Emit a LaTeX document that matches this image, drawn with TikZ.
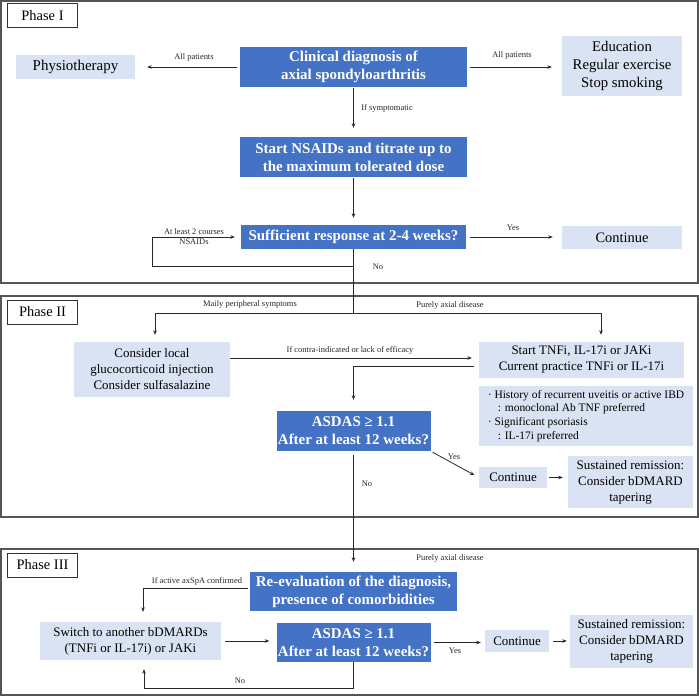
\documentclass[tikz,border=0pt]{standalone}
\usepackage{fontspec}
\setmainfont{Liberation Serif}
\usetikzlibrary{arrows.meta,calc}
\definecolor{dkblue}{RGB}{68,114,196}
\definecolor{ltblue}{RGB}{218,227,243}
\definecolor{lncol}{RGB}{40,40,40}
\definecolor{frcol}{RGB}{85,85,85}
\begin{document}
\begin{tikzpicture}[x=1bp,y=-1bp,
  dark/.style={fill=dkblue,text=white,font=\bfseries\fontsize{15}{18}\selectfont,align=center,inner sep=0pt},
  light/.style={fill=ltblue,text=black,font=\fontsize{13}{16}\selectfont,align=center,inner sep=0pt},
  lbl/.style={font=\fontsize{8.5}{10}\selectfont,text=black!85,inner sep=0pt,align=center},
  arr/.style={draw=lncol,line width=0.8bp,-{Stealth[length=4.5bp,width=3.6bp]}},
  ln/.style={draw=lncol,line width=0.8bp},
  frame/.style={draw=frcol,line width=1.3bp},
  phase/.style={draw=black!80,line width=1bp,fill=white,font=\fontsize{14.5}{16}\selectfont,inner sep=0pt,minimum width=69bp,minimum height=24bp},
]
\useasboundingbox (0,0) rectangle (699,696);
% frames
\draw[frame] (1,1) rectangle (698,283);
\draw[frame] (1,296) rectangle (698,517);
\draw[frame] (1,549) rectangle (698,695);
\node[phase] (p1) at (42.5,15.5) {Phase I};
\node[phase] (p2) at (42.5,312) {Phase II};
\node[phase] (p3) at (42.5,565) {Phase III};

% Phase I
\node[light,font=\fontsize{15}{18}\selectfont,minimum width=119bp,minimum height=24bp] (physio) at (75.5,67) {Physiotherapy};
\node[dark,minimum width=227bp,minimum height=40bp] (diag) at (353.5,67) {Clinical diagnosis of\\axial spondyloarthritis};
\node[light,font=\fontsize{14.8}{18}\selectfont,minimum width=120bp,minimum height=60bp] (edu) at (622,66) {Education\\Regular exercise\\Stop smoking};
\node[dark,minimum width=227bp,minimum height=40bp] (nsaid) at (353.5,157) {Start NSAIDs and titrate up to\\the maximum tolerated dose};
\node[dark,minimum width=225bp,minimum height=24bp] (suff) at (353.5,237) {Sufficient response at 2-4 weeks?};
\node[light,font=\fontsize{14.5}{17}\selectfont,minimum width=120bp,minimum height=23bp] (cont1) at (622,237.5) {Continue};

\draw[arr,shorten <=3bp,shorten >=12bp] (diag.west) -- (physio.east);
\node[lbl] (l1) at (194,57) {All patients};
\draw[arr,shorten <=3bp,shorten >=10bp] (diag.east) -- (diag.east -| edu.west);
\node[lbl] (l2) at (512,55) {All patients};
\draw[arr,shorten <=1bp,shorten >=9bp] (diag.south) -- (nsaid.north);
\node[lbl] (l3) at (387,108) {If symptomatic};
\draw[arr,shorten <=1bp,shorten >=7bp] (nsaid.south) -- (suff.north);
\draw[arr,shorten <=4bp,shorten >=9bp] (suff.east) -- (suff.east -| cont1.west);
\node[lbl] (l4) at (513,228) {Yes};
\coordinate (lpR) at (353.5,266);
\coordinate (lpL) at (152,266);
\draw[arr,shorten >=6bp] (suff.south) -- (lpR) -- (lpL) |- (suff.west);
\node[lbl] (l5) at (194,237) {At least 2 courses\\NSAIDs};
\node[lbl] (l6) at (378,267) {No};

% Phase II
\node[light,minimum width=156bp,minimum height=55bp] (cons) at (152,369.5) {Consider local\\glucocorticoid injection\\Consider sulfasalazine};
\node[light,minimum width=205bp,minimum height=36bp] (tnfi) at (581.5,360) {Start TNFi, IL-17i or JAKi\\Current practice TNFi or IL-17i};
\node[light,font=\fontsize{11.5}{13.7}\selectfont,align=left,minimum width=214bp,minimum height=60bp] (hist) at (586,416) {· History of recurrent uveitis or active IBD\\\hspace*{10bp}: monoclonal Ab TNF preferred\\· Significant psoriasis\\\hspace*{10bp}: IL-17i preferred};
\node[dark,minimum width=154bp,minimum height=40bp] (asdas2) at (353.5,431) {ASDAS ≥ 1.1\\After at least 12 weeks?};
\node[light,minimum width=68bp,minimum height=21bp] (cont2) at (513,477.5) {Continue};
\node[light,minimum width=125bp,minimum height=52bp] (sust2) at (630.5,482) {Sustained remission:\\Consider bDMARD\\tapering};

\coordinate (br) at (353.5,313);
\coordinate (brL) at (155,313);
\coordinate (brR) at (601,313);
\draw[ln] (lpR) -- (br);
\draw[arr,shorten >=7bp] (br) -- (brL) -- (brL |- cons.north);
\draw[arr,shorten >=7bp] (br) -- (brR) -- (brR |- tnfi.north);
\node[lbl] (l7) at (250,304) {Maily peripheral symptoms};
\node[lbl] (l8) at (450,305) {Purely axial disease};
\draw[arr,shorten >=7bp] ($(cons.east)+(0,-11.5)$) coordinate (c1) -- (c1 -| tnfi.west);
\node[lbl] (l9) at (350,350) {If contra-indicated or lack of efficacy};
\draw[arr,shorten <=5bp,shorten >=11bp] ($(tnfi.west)+(0,6)$) -| (asdas2.north);
\draw[arr,shorten <=2bp,shorten >=5bp] (asdas2.south east) -- (cont2.west);
\node[lbl] (l10) at (454,457) {Yes};
\draw[arr,shorten <=2bp,shorten >=5bp] (cont2.east) -- (cont2.east -| sust2.west);

% Phase III
\node[dark,minimum width=207bp,minimum height=39bp] (reeval) at (353.5,591.5) {Re-evaluation of the diagnosis,\\presence of comorbidities};
\node[light,minimum width=181bp,minimum height=38bp] (switch) at (130.5,641) {Switch to another bDMARDs\\(TNFi or IL-17i) or JAKi};
\node[dark,minimum width=154bp,minimum height=39bp] (asdas3) at (353.5,642.5) {ASDAS ≥ 1.1\\After at least 12 weeks?};
\node[light,minimum width=64bp,minimum height=22bp] (cont3) at (517,641) {Continue};
\node[light,minimum width=123bp,minimum height=53bp] (sust3) at (631.5,641.5) {Sustained remission:\\Consider bDMARD\\tapering};

\draw[arr,shorten <=4bp,shorten >=10bp] (asdas2.south) -- (reeval.north);
\node[lbl] (l11) at (367,484) {No};
\node[lbl] (l12) at (450,558) {Purely axial disease};
\coordinate (r1) at ($(reeval.west)+(-2,-3.5)$);
\coordinate (swT) at ($(switch.north)+(12.5,0)$);
\draw[arr,shorten >=10bp] (r1) -| (swT);
\node[lbl] (l13) at (197,581) {If active axSpA confirmed};
\draw[arr,shorten <=4bp,shorten >=7bp] (switch.east) -- (switch.east -| asdas3.west);
\draw[arr,shorten <=3bp,shorten >=4bp] (asdas3.east) -- (asdas3.east -| cont3.west);
\node[lbl] (l14) at (455,651) {Yes};
\draw[arr,shorten <=4bp,shorten >=3bp] (cont3.east) -- (cont3.east -| sust3.west);
\coordinate (nb) at ($(asdas3.south)+(0,26)$);
\coordinate (swB) at ($(switch.south)+(13.5,0)$);
\draw[arr,shorten >=9bp] (asdas3.south) -- (nb) -| (swB);
\node[lbl] (l15) at (240,681) {No};
\end{tikzpicture}
\end{document}
